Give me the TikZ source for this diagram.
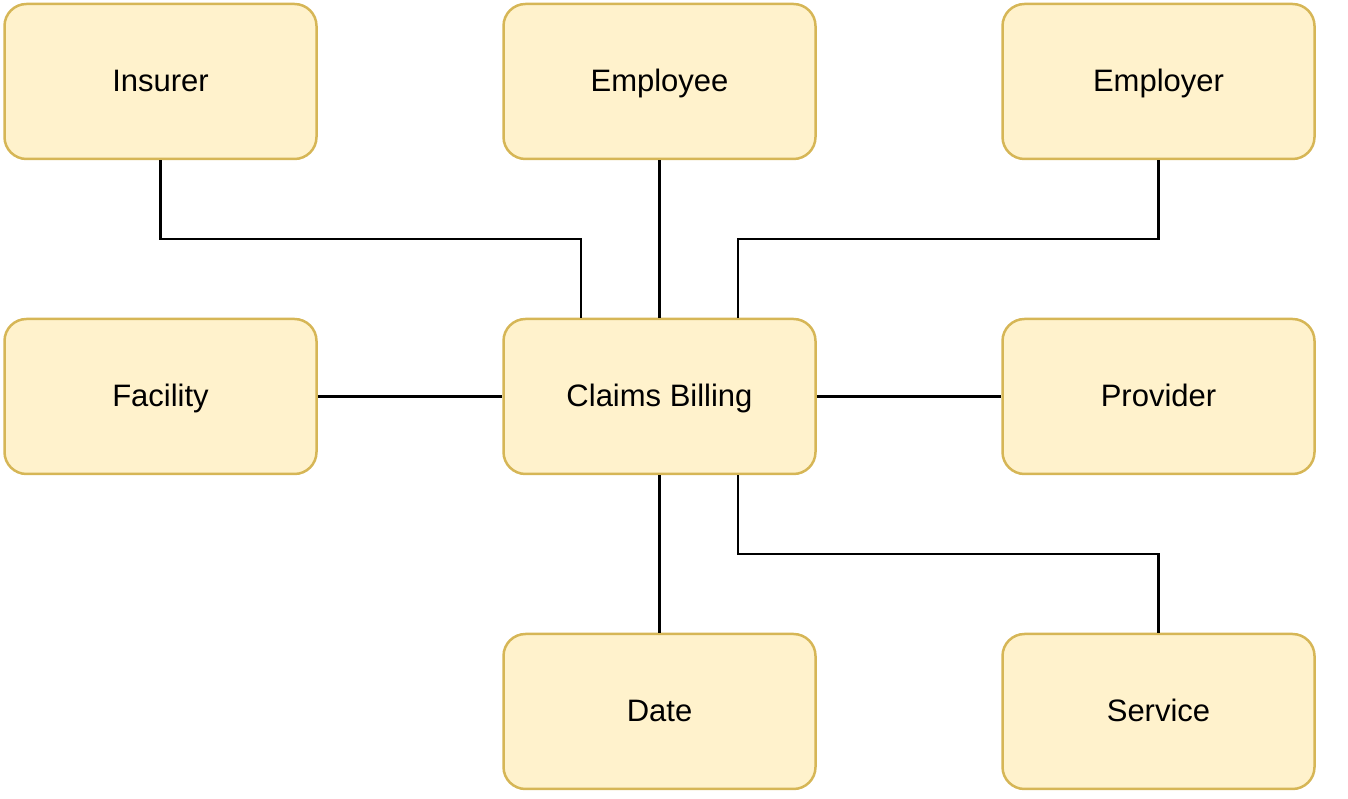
\documentclass[tikz,border=0pt]{standalone}
\usepackage{fontspec}
\setmainfont{Liberation Sans}
\usetikzlibrary{calc}
\definecolor{boxfill}{HTML}{FFF2CC}
\definecolor{boxline}{HTML}{D6B656}
\tikzset{entity/.style={draw=boxline, fill=boxfill, line width=2.5pt, rounded corners=22pt,
  minimum width=312pt, minimum height=155pt, text height=27pt, text depth=6.6pt,
  font=\fontsize{31}{36}\selectfont}}
\tikzset{link/.style={line width=2.4pt}}

\begin{document}
\begin{tikzpicture}[x=1pt, y=1pt]
      \useasboundingbox (0, 0) rectangle (1348, 799);

      \node[entity] (ins) at (160.5, 717.5) {Insurer};
      \node[entity] (emp) at (659.5, 717.5) {Employee};
      \node[entity] (empr) at (1158.5, 717.5) {Employer};
      \node[entity] (fac) at (160.5, 402.5) {Facility};
      \node[entity] (cb) at (659.5, 402.5) {Claims Billing};
      \node[entity] (prov) at (1158.5, 402.5) {Provider};
      \node[entity] (date) at (659.5, 87.5) {Date};
      \node[entity] (srv) at (1158.5, 87.5) {Service};

      \coordinate (cbnw) at ($(cb.north)!0.5!(cb.north west)$);
      \coordinate (cbne) at ($(cb.north)!0.5!(cb.north east)$);
      \coordinate (cbse) at ($(cb.south)!0.5!(cb.south east)$);

      \draw[link] (ins.south) -- ++(0, -79) -| (cbnw);
      \draw[link] (emp) -- (cb);
      \draw[link] (empr.south) -- ++(0, -79) -| (cbne);
      \draw[link] (fac) -- (cb);
      \draw[link] (cb) -- (prov);
      \draw[link] (cb) -- (date);
      \draw[link] (cbse) -- ++(0, -79) -| (srv.north);
    \end{tikzpicture}
\end{document}
